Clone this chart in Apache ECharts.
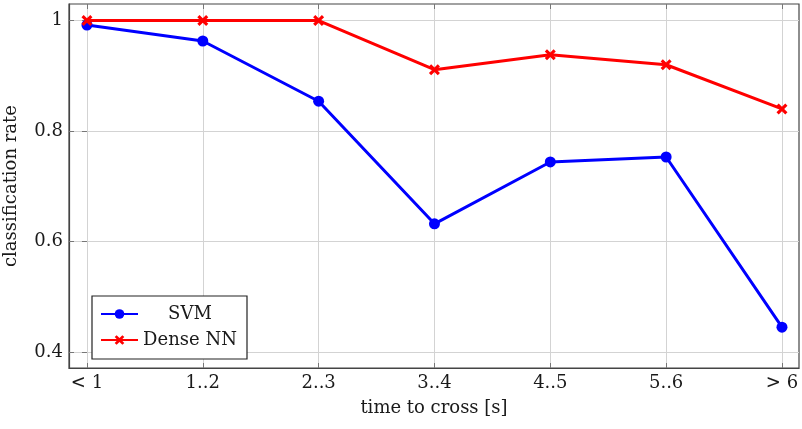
<!DOCTYPE html>
<html><head><meta charset="utf-8">
<script src="https://cdn.jsdelivr.net/npm/echarts@6/dist/echarts.min.js"></script>
<style>html,body{margin:0;padding:0;background:#fff}#c{width:802px;height:429px}</style>
</head><body><div id="c"></div>
<script>
const categories = ['< 1', '1..2', '2..3', '3..4', '4..5', '5..6', '> 6'];
const svm = [0.992, 0.963, 0.854, 0.632, 0.744, 0.753, 0.445];
const denseNN = [1.0, 1.0, 1.0, 0.911, 0.938, 0.920, 0.840];
const yTicks = [0.4, 0.6, 0.8, 1];

const FONT = 'DejaVu Serif';
const FS = 18;
const crossPath = 'path://M2,0 L5,3 L8,0 L10,2 L7,5 L10,8 L8,10 L5,7 L2,10 L0,8 L3,5 L0,2 Z';
const toXY = arr => arr.map((v, i) => [i, v]);

const chart = echarts.init(document.getElementById('c'));
const xMin = -0.155, xMax = 6.147, yMin = 0.371, yMax = 1.030;
const isCat = v => Math.abs(v - Math.round(v)) < 1e-6;
const isYT = v => yTicks.some(t => Math.abs(t - v) < 1e-6);
const tickStyle = {show: true, inside: true, length: 5, lineStyle: {color: '#777', width: 1}};
chart.setOption({
  animation: false,
  textStyle: {fontFamily: FONT},
  grid: {left: 69, right: 3, top: 4, bottom: 61, containLabel: false, outerBoundsMode: 'none',
    show: true, borderColor: '#444', borderWidth: 1.2, backgroundColor: 'transparent'},
  xAxis: [{
    type: 'value', min: xMin, max: xMax, splitNumber: 6, minInterval: 1, maxInterval: 1,
    axisLine: {show: true, onZero: false, lineStyle: {color: '#444', width: 1.2}},
    axisTick: Object.assign({}, tickStyle, {customValues: categories.map((c, i) => i)}),
    splitLine: {show: true, lineStyle: {color: '#d3d3d3', width: 1}},
    axisLabel: {color: '#1a1a1a', fontSize: FS, fontFamily: FONT, margin: 6,
      customValues: categories.map((c, i) => i),
      formatter: v => isCat(v) ? categories[Math.round(v)] : ''},
    name: 'time to cross [s]', nameLocation: 'middle', nameGap: 31,
    nameTextStyle: {color: '#1a1a1a', fontSize: FS, fontFamily: FONT}
  }, {
    type: 'value', position: 'top', min: xMin, max: xMax,
    axisLine: {show: false},
    axisTick: Object.assign({}, tickStyle, {customValues: categories.map((c, i) => i)}),
    axisLabel: {show: false}, splitLine: {show: false}
  }],
  yAxis: [{
    type: 'value', min: yMin, max: yMax, splitNumber: 3, minInterval: 0.2, maxInterval: 0.2,
    axisLine: {show: true, onZero: false, lineStyle: {color: '#444', width: 1.2}},
    axisTick: Object.assign({}, tickStyle, {customValues: yTicks}),
    splitLine: {show: true, lineStyle: {color: '#d3d3d3', width: 1}},
    axisLabel: {color: '#1a1a1a', fontSize: FS, fontFamily: FONT, margin: 6,
      customValues: yTicks,
      formatter: v => isYT(v) ? String(Math.round(v * 10) / 10) : ''},
    name: 'classification rate', nameLocation: 'middle', nameGap: 49,
    nameTextStyle: {color: '#1a1a1a', fontSize: FS, fontFamily: FONT}
  }, {
    type: 'value', position: 'right', min: yMin, max: yMax,
    axisLine: {show: false},
    axisTick: Object.assign({}, tickStyle, {customValues: yTicks}),
    axisLabel: {show: false}, splitLine: {show: false}
  }],
  legend: {
    left: 92, top: 296, orient: 'vertical',
    backgroundColor: '#fff', borderColor: '#222', borderWidth: 1.2, borderRadius: 0,
    padding: [9, 10, 10, 8], itemGap: 8, itemWidth: 37, itemHeight: 12,
    textStyle: {fontSize: FS, fontFamily: FONT, color: '#1a1a1a',
      rich: {c: {width: 94, lineHeight: 20, align: 'center', fontSize: FS, fontFamily: FONT, color: '#1a1a1a'}}},
    formatter: n => '{c|' + n + '}',
    data: ['SVM', 'Dense NN']
  },
  series: [{
    name: 'SVM', type: 'line', data: toXY(svm), symbol: 'circle', symbolSize: 11,
    lineStyle: {color: '#0000ff', width: 3}, itemStyle: {color: '#0000ff'}, z: 3
  }, {
    name: 'Dense NN', type: 'line', data: toXY(denseNN), symbol: crossPath, symbolSize: 11,
    lineStyle: {color: '#ff0000', width: 3}, itemStyle: {color: '#ff0000'}, z: 4
  }]
});
</script></body></html>
